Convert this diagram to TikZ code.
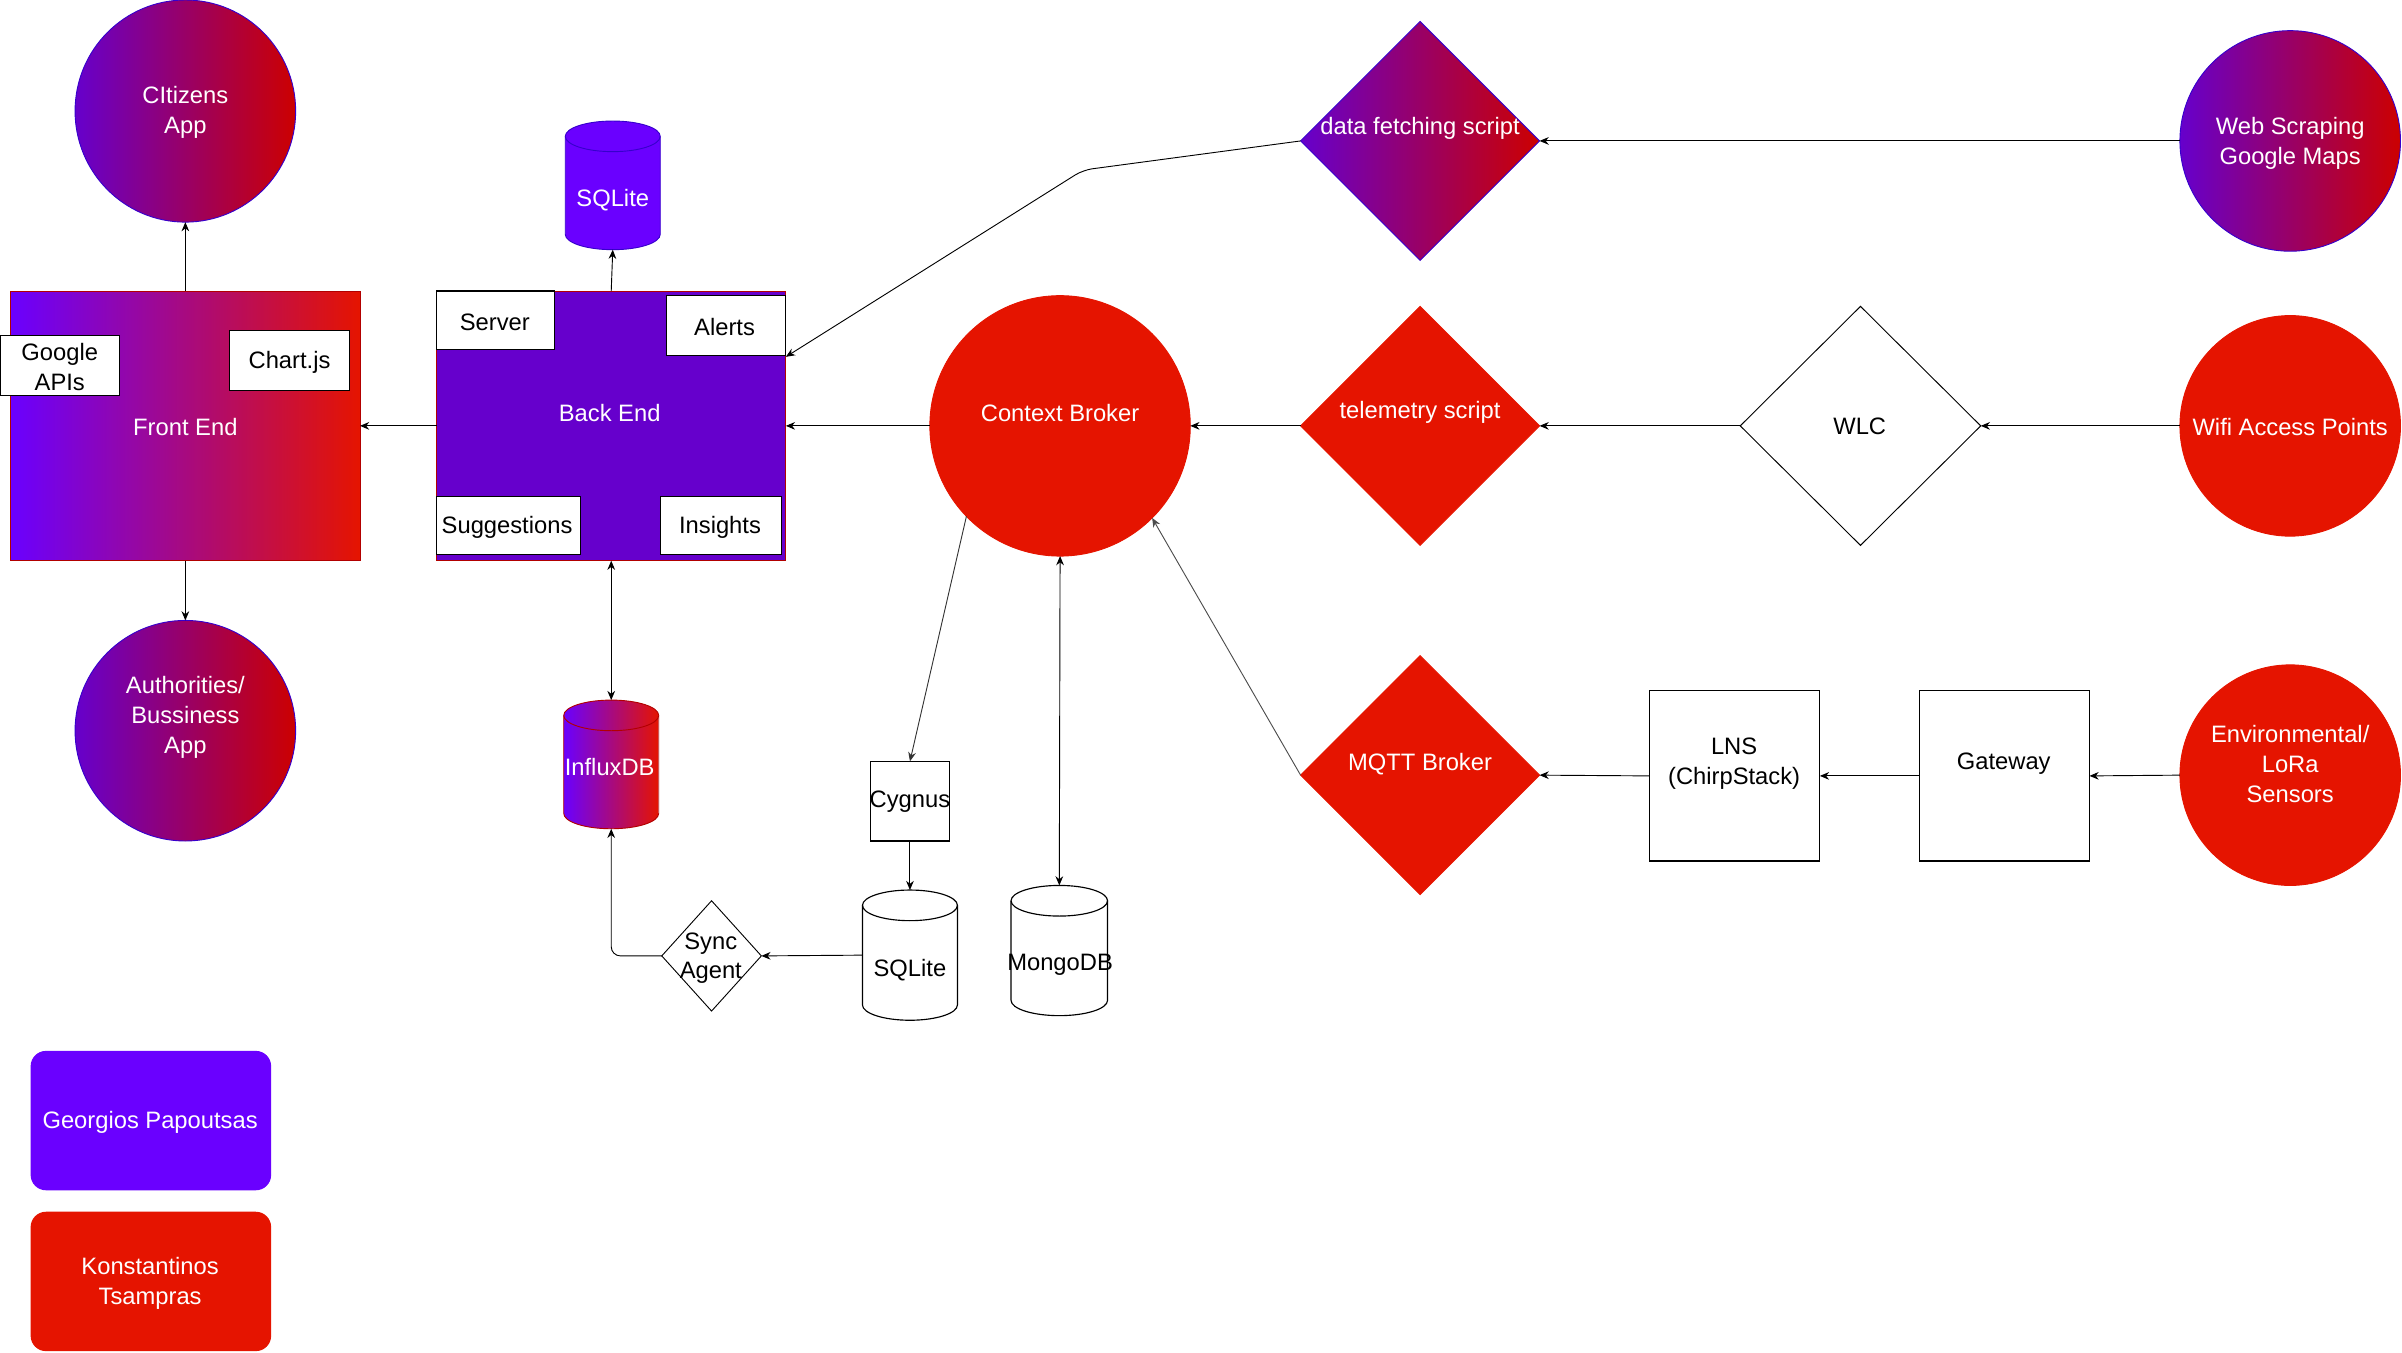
\documentclass[tikz,border=0pt]{standalone}
\usepackage{fontspec}
\setmainfont{Liberation Sans}
\usetikzlibrary{shapes.geometric,arrows.meta,calc}
\definecolor{vio}{HTML}{6A00FF}
\definecolor{vioD}{HTML}{6600CC}
\definecolor{redA}{HTML}{E51400}
\definecolor{redD}{HTML}{CC0000}
\definecolor{redB}{HTML}{B20000}
\definecolor{vioB}{HTML}{3700CC}
\begin{document}
\begin{tikzpicture}[x=1pt,y=-1pt,
  every node/.style={inner sep=0pt, outer sep=0pt},
  lbl/.style={font=\fontsize{15.5}{19.5}\selectfont, align=center, yshift=-1.5pt},
  wl/.style={lbl, text=white},
  bl/.style={lbl, text=black},
  grad/.style={left color=vioD, right color=redD, draw=vioB, line width=0.6pt},
  gradbox/.style={left color=vio, right color=redA, draw=redB, line width=0.6pt},
  redshape/.style={fill=redA, draw=redA, line width=0.6pt},
  wbox/.style={rectangle, draw=black, fill=white, line width=0.75pt},
  oval/.style={ellipse, minimum width=144pt, minimum height=144pt},
  dia/.style={diamond, minimum width=156pt, minimum height=156pt},
  conn/.style={draw=black, line width=0.6pt, -{Stealth[length=6pt,width=5pt]}},
  dconn/.style={conn, {Stealth[length=6pt,width=5pt]}-{Stealth[length=6pt,width=5pt]}},
  ghost/.style={rectangle},
  legend/.style={rectangle, rounded corners=10pt, minimum width=157pt, minimum height=91pt},
]
\useasboundingbox (0,0) rectangle (1568,883);

% ---- main shapes ----
\node[oval, grad, minimum height=145pt] (cit) at (121,72.5) {};
\node[oval, grad] (auth) at (121,477) {};
\node[rectangle, gradbox, minimum width=228pt, minimum height=176pt] (fe) at (121,278) {};
\node[rectangle, fill=vioD, draw=redB, line width=0.6pt, minimum width=228pt, minimum height=176pt] (be) at (399,278) {};
\node[wbox, minimum width=78pt, minimum height=39pt] (gapi) at (39,238.5) {};
\node[wbox, minimum width=78pt, minimum height=39pt] (chart) at (189,235.5) {};
\node[wbox, minimum width=77pt, minimum height=38pt] (srv) at (323.5,209) {};
\node[wbox, minimum width=78pt, minimum height=39pt] (alr) at (474,212.5) {};
\node[wbox, minimum width=94pt, minimum height=38pt] (sug) at (332,343) {};
\node[wbox, minimum width=79pt, minimum height=38pt] (ins) at (470.5,343) {};

\node[dia, grad] (dfs) at (927,92) {};
\node[oval, grad] (web) at (1495,92) {};
\node[ellipse, redshape, minimum width=170pt, minimum height=170pt] (cb) at (692,278) {};
\node[dia, redshape] (tel) at (927,278) {};
\node[dia, draw=black, fill=white, line width=0.6pt, minimum width=157pt] (wlc) at (1214.5,278) {};
\node[oval, redshape] (wifi) at (1495,278) {};
\node[dia, redshape] (mqtt) at (927,506) {};
\node[wbox, minimum width=111pt, minimum height=111pt] (lns) at (1132.5,506.5) {};
\node[wbox, minimum width=111pt, minimum height=111pt] (gw) at (1308.5,506.5) {};
\node[oval, redshape] (env) at (1495,506) {};
\node[wbox, minimum width=52pt, minimum height=52pt] (cyg) at (594,523) {};
\node[diamond, draw=black, fill=white, line width=0.6pt, minimum width=65pt, minimum height=72pt] (sync) at (464.5,624) {};

% ---- cylinders ----
\path[fill=vio, draw=vioB, line width=0.6pt] (369,89) -- (369,153)
  arc[start angle=180,end angle=360,x radius=31pt,y radius=10pt] -- (431,89)
  arc[start angle=0,end angle=180,x radius=31pt,y radius=10pt] -- cycle;
\draw[vioB, line width=0.6pt] (369,89) arc[start angle=180,end angle=360,x radius=31pt,y radius=10pt];
\node[ghost, minimum width=62pt, minimum height=84pt] (sqlA) at (400,121) {};

\path[left color=vio, right color=redA, draw=redB, line width=0.6pt] (368,467) -- (368,531)
  arc[start angle=180,end angle=360,x radius=31pt,y radius=10pt] -- (430,467)
  arc[start angle=0,end angle=180,x radius=31pt,y radius=10pt] -- cycle;
\draw[redB, line width=0.6pt] (368,467) arc[start angle=180,end angle=360,x radius=31pt,y radius=10pt];
\node[ghost, minimum width=62pt, minimum height=84pt] (influx) at (399,499) {};

\path[fill=white, draw=black, line width=0.75pt] (563,591) -- (563,656)
  arc[start angle=180,end angle=360,x radius=31pt,y radius=10pt] -- (625,591)
  arc[start angle=0,end angle=180,x radius=31pt,y radius=10pt] -- cycle;
\draw[black, line width=0.75pt] (563,591) arc[start angle=180,end angle=360,x radius=31pt,y radius=10pt];
\node[ghost, minimum width=62pt, minimum height=85pt] (sqlB) at (594,623.5) {};

\path[fill=white, draw=black, line width=0.75pt] (660,588) -- (660,653)
  arc[start angle=180,end angle=360,x radius=31.5pt,y radius=10pt] -- (723,588)
  arc[start angle=0,end angle=180,x radius=31.5pt,y radius=10pt] -- cycle;
\draw[black, line width=0.75pt] (660,588) arc[start angle=180,end angle=360,x radius=31.5pt,y radius=10pt];
\node[ghost, minimum width=63pt, minimum height=85pt] (mongo) at (691.5,620.5) {};

% ---- legend ----
\node[legend, fill=vio] (lg1) at (98.5,731.5) {};
\node[legend, fill=redA] (lg2) at (98.5,836.5) {};

% ---- texts ----
\node[wl] (tcit) at (121,72) {CItizens\\App};
\node[wl] (tauth) at (121,467) {Authorities/\\Bussiness\\App};
\node[wl] (tfe) at (121,277) {Front End};
\node[wl] (tbe) at (398,268) {Back End};
\node[bl] (tgapi) at (39,238) {Google\\APIs};
\node[bl] (tchart) at (189,235) {Chart.js};
\node[bl] (tsrv) at (323,209) {Server};
\node[bl] (talr) at (473,212) {Alerts};
\node[bl] (tsug) at (331,343) {Suggestions};
\node[bl] (tins) at (470,343) {Insights};
\node[wl] (tsqlA) at (400,129) {SQLite};
\node[wl] (tdfs) at (927,82) {data fetching script};
\node[wl] (tweb) at (1495,92) {Web Scraping\\Google Maps};
\node[wl] (tcb) at (692,268) {Context Broker};
\node[wl] (ttel) at (927,268) {telemetry script};
\node[bl] (twlc) at (1214,277) {WLC};
\node[wl] (twifi) at (1495,277) {Wifi Access Points};
\node[wl] (tmqtt) at (927,497) {MQTT Broker};
\node[bl] (tlns) at (1132,497) {LNS\\(ChirpStack)};
\node[bl] (tgw) at (1308,497) {Gateway};
\node[wl] (tenv) at (1495,497) {Environmental/\\LoRa\\Sensors};
\node[bl] (tcyg) at (594,522) {Cygnus};
\node[bl] (tsqlB) at (594,632) {SQLite};
\node[bl] (tmongo) at (692,628) {MongoDB};
\node[wl] (tinflux) at (398,499) {InfluxDB};
\node[bl] (tsync) at (464,624) {Sync\\Agent};
\node[wl] (tlg1) at (98,731) {Georgios Papoutsas};
\node[wl] (tlg2) at (98,836) {Konstantinos\\Tsampras};

% ---- connectors ----
\coordinate (dfbend) at (707,111);
\draw[conn] (fe.north) -- (cit.south);
\draw[conn] (fe.south) -- (auth.north);
\draw[conn] (be.west) -- (fe.east);
\draw[conn] (be.north) -- (sqlA.south);
\draw[conn] (cb.west) -- (be.east);
\draw[conn, rounded corners=6pt] (dfs.west) -- (dfbend) -- ($(be.north east)!0.244!(be.south east)$);
\draw[conn] (web.west) -- (dfs.east);
\draw[conn] (tel.west) -- (cb.east);
\draw[conn] (wlc.west) -- (tel.east);
\draw[conn] (wifi.west) -- (wlc.east);
\draw[conn, draw=black!70] (mqtt.west) -- (cb.-45);
\draw[conn] (lns.west) -- (mqtt.east);
\draw[conn] (gw.west) -- (lns.east);
\draw[conn] (env.west) -- (gw.east);
\draw[conn, draw=black!80] (cb.-136) -- (cyg.north);
\draw[conn] (cyg.south) -- (sqlB.north);
\draw[dconn] (cb.south) -- (mongo.north);
\draw[conn] (sqlB.west) -- (sync.east);
\draw[conn, rounded corners=6pt] (sync.west) -| (influx.south);
\draw[dconn] (be.south) -- (influx.north);
\end{tikzpicture}
\end{document}
